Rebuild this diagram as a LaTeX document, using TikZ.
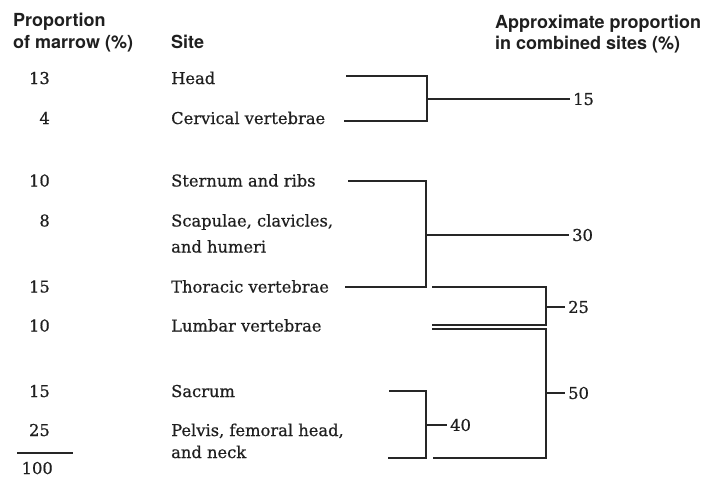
\documentclass[tikz,border=0pt]{standalone}
\usepackage{fontspec}
\setmainfont{DejaVu Serif}
\newfontfamily\body[FakeBold=0.6]{DejaVu Serif}
\newfontfamily\hdr{TeX Gyre Heros}
\begin{document}
\begin{tikzpicture}[x=1pt,y=-1pt,
  hd/.style={font=\hdr\bfseries\fontsize{18}{22}\selectfont, text=black!88, inner sep=0pt, anchor=base west},
  tx/.style={font=\body\fontsize{16.3}{20}\selectfont, text=black!88, inner sep=0pt, anchor=base west},
  num/.style={font=\body\fontsize{16.3}{20}\selectfont, text=black!88, inner sep=0pt, anchor=base east},
  val/.style={font=\body\fontsize{16.3}{20}\selectfont, text=black!88, inner sep=3pt, anchor=west},
  conn/.style={draw=black!85, line width=1.4pt}]
\useasboundingbox[fill=white] (0,0) rectangle (707,477);
% headers
\node[hd] (h1) at (13,26.5) {Proportion};
\node[hd] (h2) at (13,48) {of marrow (\%)};
\node[hd] (h3) at (171,48) {Site};
\node[hd] (h4) at (495,28) {Approximate proportion};
\node[hd] (h5) at (495,49) {in combined sites (\%)};
% rows
\node[num] (n1) at (50,84) {13};    \node[tx] (s1) at (171,84) {Head};
\node[num] (n2) at (50,124) {4};    \node[tx] (s2) at (171,124) {Cervical vertebrae};
\node[num] (n3) at (50,186.5) {10}; \node[tx] (s3) at (171,186.5) {Sternum and ribs};
\node[num] (n4) at (50,226.5) {8};  \node[tx] (s4) at (171,226.5) {Scapulae, clavicles,};
                                    \node[tx] (s4b) at (171,252.5) {and humeri};
\node[num] (n5) at (50,292.5) {15}; \node[tx] (s5) at (171,292.5) {Thoracic vertebrae};
\node[num] (n6) at (50,331.5) {10}; \node[tx] (s6) at (171,331.5) {Lumbar vertebrae};
\node[num] (n7) at (50,397) {15};   \node[tx] (s7) at (171,397) {Sacrum};
\node[num] (n8) at (50,436) {25};   \node[tx] (s8) at (171,436) {Pelvis, femoral head,};
                                    \node[tx] (s8b) at (171,458) {and neck};
\node[num] (n9) at (53,474) {100};
\coordinate (r1) at (17,453); \coordinate (r2) at (73,453);
\draw[conn] (r1) -- (r2);
% bracket coordinates
\coordinate (b1t) at (346,76);  \coordinate (b1m) at (427,99);   \coordinate (b1b) at (344,121);
\coordinate (b2t) at (348,181); \coordinate (b2m) at (426,235);  \coordinate (b2b) at (345,287);
\coordinate (b3t) at (432,287); \coordinate (b3m) at (546,307);  \coordinate (b3b) at (432,325);
\coordinate (b4t) at (432,329); \coordinate (b4m) at (546,393);  \coordinate (b4b) at (433,458);
\coordinate (b5t) at (389,391); \coordinate (b5m) at (426,425);  \coordinate (b5b) at (388,458);
% values
\node[val] (v15) at (570,99) {15};
\node[val] (v30) at (569,235) {30};
\node[val] (v25) at (565,307) {25};
\node[val] (v50) at (565,393) {50};
\node[val] (v40) at (447,425) {40};
% connectors
\draw[conn] (b1t) -| (b1m) |- (b1b); \draw[conn] (b1m) -- (v15.west);
\draw[conn] (b2t) -| (b2m) |- (b2b); \draw[conn] (b2m) -- (v30.west);
\draw[conn] (b3t) -| (b3m) |- (b3b); \draw[conn] (b3m) -- (v25.west);
\draw[conn] (b4t) -| (b4m) |- (b4b); \draw[conn] (b4m) -- (v50.west);
\draw[conn] (b5t) -| (b5m) |- (b5b); \draw[conn] (b5m) -- (v40.west);
\end{tikzpicture}
\end{document}
